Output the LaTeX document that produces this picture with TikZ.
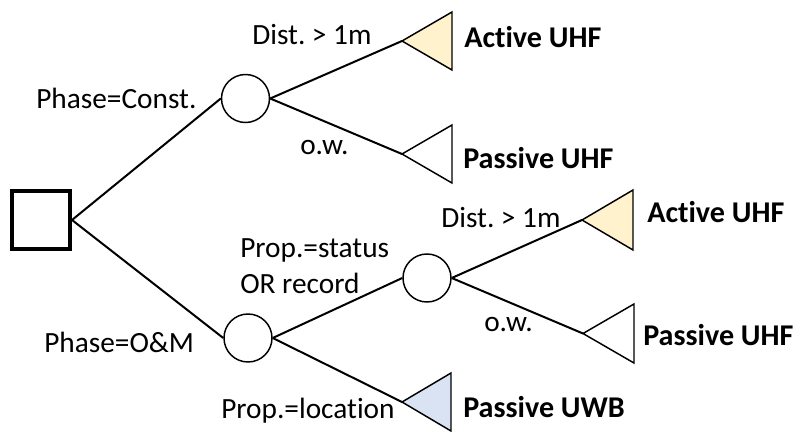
\documentclass[tikz,border=0pt]{standalone}
\usepackage{fontspec}
\setmainfont{Carlito}[Ligatures=NoCommon]
\definecolor{activefill}{HTML}{FFF2CC}
\definecolor{uwbfill}{HTML}{DAE3F3}
\begin{document}
\frenchspacing
\begin{tikzpicture}[x=0.75pt,y=-0.75pt,
  edge/.style={line width=1.5pt},
  chance/.style={circle,draw,line width=1.1pt,minimum size=36pt,inner sep=0pt},
  decision/.style={rectangle,draw,line width=3pt,minimum size=43.5pt,inner sep=0pt},
  leaf/.style={draw,line width=1.1pt,line join=miter},
  lbl/.style={anchor=base west,inner sep=0pt,font=\fontsize{22}{26}\selectfont},
  outcome/.style={anchor=base west,inner sep=0pt,font=\fontsize{22.6}{27}\selectfont\bfseries}]
\useasboundingbox (0,0) rectangle (793,432);

% decision and chance nodes
\node[decision] (root) at (41,220) {};
\node[chance] (c1) at (245.5,98.5) {};
\node[chance] (c2) at (248,338) {};
\node[chance] (c3) at (427,278) {};

% terminal triangles (apex points to the left)
\coordinate (ta1) at (402,41);
\coordinate (tp1) at (402,154);
\coordinate (ta2) at (582,220);
\coordinate (tp2) at (583,333.5);
\coordinate (tw)  at (402,402);
\draw[leaf,fill=activefill] (ta1) -- ++(50,-29) -- ++(0,58) -- cycle;
\draw[leaf,fill=white]      (tp1) -- ++(50,-29) -- ++(0,58) -- cycle;
\draw[leaf,fill=activefill] (ta2) -- ++(51,-30) -- ++(0,60) -- cycle;
\draw[leaf,fill=white]      (tp2) -- ++(51,-29.5) -- ++(0,59) -- cycle;
\draw[leaf,fill=uwbfill]    (tw)  -- ++(49,-29) -- ++(0,58) -- cycle;

% branches
\draw[edge] (root.east) -- (c1.west);
\draw[edge] (root.east) -- (c2.west);
\draw[edge] (c1.east) -- (ta1);
\draw[edge] (c1.east) -- (tp1);
\draw[edge] (c2.east) -- (c3.west);
\draw[edge] (c2.east) -- (tw);
\draw[edge] (c3.east) -- (ta2);
\draw[edge] (c3.east) -- (tp2);

% branch labels
\node[lbl] (l1) at (36,108) {Phase=Const.};
\node[lbl] (l2) at (44,352) {Phase=O\&M};
\node[lbl] (l3) at (252,44) {Dist. > 1m};
\node[lbl] (l4) at (300,154) {o.w.};
\node[lbl] (l5) at (240,257) {Prop.=status};
\node[lbl] (l6) at (240,293) {OR record};
\node[lbl] (l7) at (441,227) {Dist. > 1m};
\node[lbl] (l8) at (484,331) {o.w.};
\node[lbl] (l9) at (221,418) {Prop.=location};

% outcomes
\node[outcome] (o1) at (464,47) {Active UHF};
\node[outcome] (o2) at (463,168) {Passive UHF};
\node[outcome] (o3) at (647,222) {Active UHF};
\node[outcome] (o4) at (643,345) {Passive UHF};
\node[outcome] (o5) at (463,417) {Passive UWB};
\end{tikzpicture}
\end{document}
